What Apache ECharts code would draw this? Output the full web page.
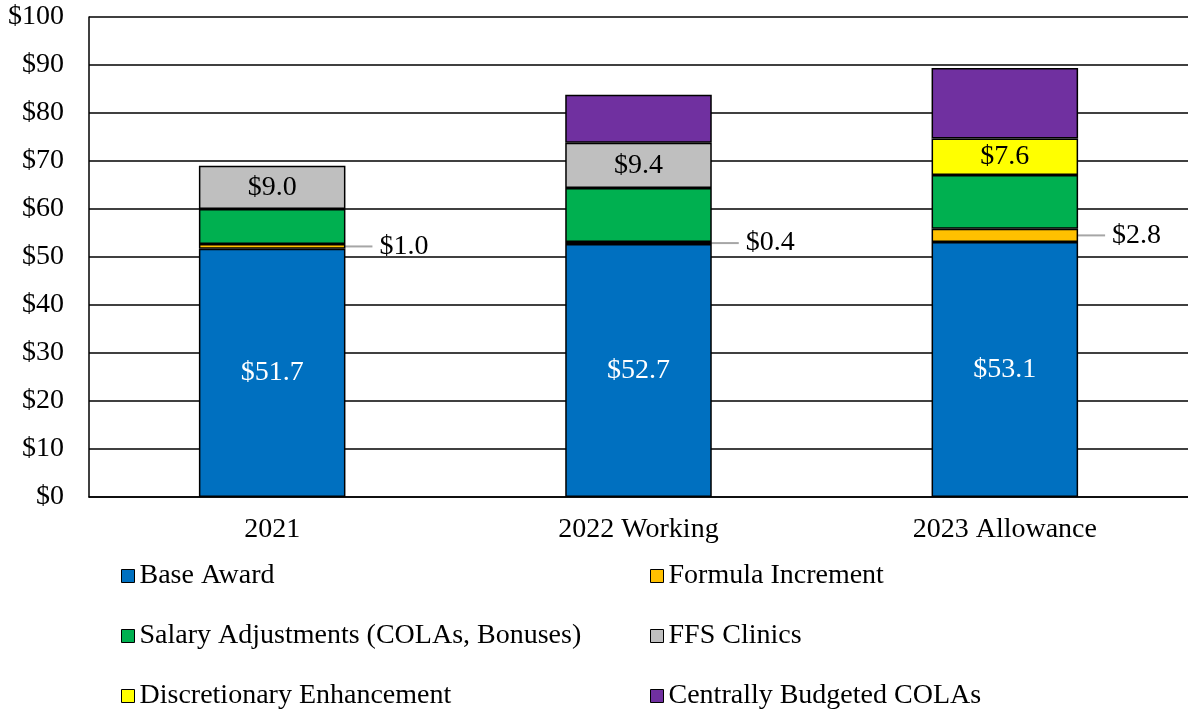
<!DOCTYPE html>
<html>
<head>
<meta charset="utf-8">
<script src="https://cdn.jsdelivr.net/npm/echarts@6/dist/echarts.min.js"></script>
<style>
  html, body { margin: 0; padding: 0; background: #fff; }
  #main { width: 1188px; height: 711px; }
</style>
</head>
<body>
<div id="main"></div>
<script>
// categories and values ($ millions)
const years = ['2021', '2022 Working', '2023 Allowance'];
const baseAward = [51.7, 52.7, 53.1];
const formulaIncrement = [1.0, 0.4, 2.8];
const salaryAdj = [7.3, 11.3, 11.2];
const ffsClinics = [9.0, 9.4, '-'];
const discretionary = ['-', '-', 7.6];
const centralColas = ['-', 10.0, 14.7];

const FONT = "'Liberation Serif', 'Times New Roman', serif";
const FS = 28;
const money = (p) => '$' + Number(p.value).toFixed(1);

let myChart = echarts.init(document.getElementById('main'), null, { renderer: 'canvas' });

let barBorder = { borderColor: '#000', borderWidth: 1.5 };

let legendCommon = {
    orient: 'vertical',
    icon: 'rect',
    height: 160,
    itemWidth: 13,
    itemHeight: 13,
    itemGap: 32,
    itemStyle: { borderColor: '#000', borderWidth: 1 },
    textStyle: { fontFamily: FONT, fontSize: FS, color: '#000', lineHeight: 28 },
    selectedMode: false
};

myChart.setOption({
    animation: false,
    textStyle: { fontFamily: FONT },
    grid: { left: 89, right: 0, top: 17, bottom: 214 },
    legend: [
        Object.assign({ left: 116, top: 557, data: ['Base Award', 'Salary Adjustments (COLAs, Bonuses)', 'Discretionary Enhancement'] }, legendCommon),
        Object.assign({ left: 645, top: 557, data: ['Formula Increment', 'FFS Clinics', 'Centrally Budgeted COLAs'] }, legendCommon)
    ],
    xAxis: {
        type: 'category',
        data: years,
        axisLine: { show: true, lineStyle: { color: '#000', width: 1.5 } },
        axisTick: { show: false },
        axisLabel: { fontFamily: FONT, fontSize: FS, color: '#000', margin: 19 }
    },
    yAxis: {
        type: 'value',
        min: 0,
        max: 100,
        interval: 10,
        axisLine: { show: true, lineStyle: { color: '#000', width: 1.5 } },
        axisTick: { show: false },
        axisLabel: { fontFamily: FONT, fontSize: FS, color: '#000', margin: 25, formatter: '${value}' },
        splitLine: { lineStyle: { color: '#000', width: 1.5 } }
    },
    series: [
        {
            name: 'Base Award', type: 'bar', stack: 'total', barWidth: '40%',
            data: baseAward,
            itemStyle: Object.assign({ color: '#0070c0' }, barBorder),
            label: { show: true, position: 'inside', color: '#fff', fontSize: FS, fontFamily: FONT, formatter: money }
        },
        {
            name: 'Formula Increment', type: 'bar', stack: 'total',
            data: formulaIncrement,
            itemStyle: Object.assign({ color: '#ffc000' }, barBorder),
            // label pushed right with a grey leader line back to the bar
            label: { show: true, position: 'right', distance: 0, color: '#000', fontSize: FS, fontFamily: FONT, formatter: (p) => ' ' + money(p) },
            labelLayout: { dx: 27 },
            labelLine: { show: true, lineStyle: { color: '#a6a6a6', width: 2 } }
        },
        {
            name: 'Salary Adjustments (COLAs, Bonuses)', type: 'bar', stack: 'total',
            data: salaryAdj,
            itemStyle: Object.assign({ color: '#00b050' }, barBorder)
        },
        {
            name: 'FFS Clinics', type: 'bar', stack: 'total',
            data: ffsClinics,
            itemStyle: Object.assign({ color: '#bfbfbf' }, barBorder),
            label: { show: true, position: 'inside', color: '#000', fontSize: FS, fontFamily: FONT, formatter: money }
        },
        {
            name: 'Discretionary Enhancement', type: 'bar', stack: 'total',
            data: discretionary,
            itemStyle: Object.assign({ color: '#ffff00' }, barBorder),
            label: { show: true, position: 'inside', color: '#000', fontSize: FS, fontFamily: FONT, formatter: money }
        },
        {
            name: 'Centrally Budgeted COLAs', type: 'bar', stack: 'total',
            data: centralColas,
            itemStyle: Object.assign({ color: '#7030a0' }, barBorder)
        }
    ]
});
</script>
</body>
</html>
